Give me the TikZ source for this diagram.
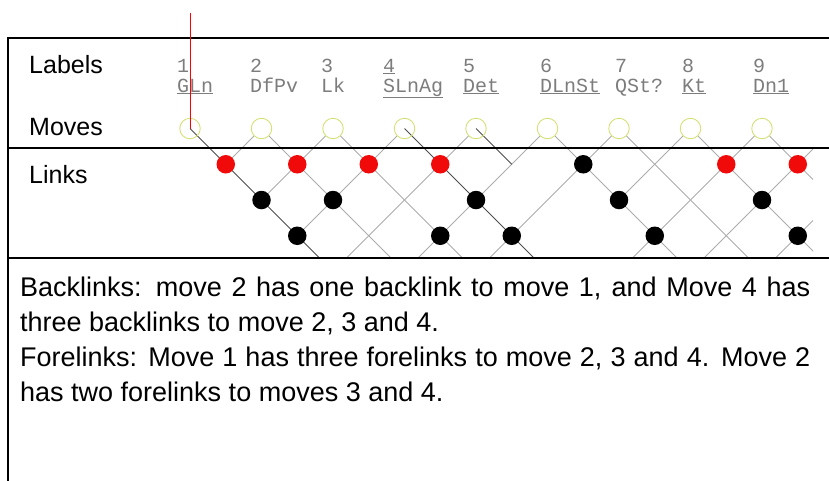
\documentclass[tikz,border=0pt]{standalone}
\usepackage{fontspec}
\setmainfont{Liberation Sans}
\newfontfamily\plotfont{Liberation Mono}
\usetikzlibrary{calc, backgrounds}

\definecolor{ringgreen}{RGB}{214,224,120}
\definecolor{linkred}{RGB}{240,10,10}
\definecolor{gridgray}{RGB}{172,172,172}
\definecolor{labelgray}{RGB}{125,125,125}

\begin{document}
\begin{tikzpicture}[
    x=1pt, y=-1pt,
    move/.style={circle, draw=ringgreen, line width=0.9pt, minimum size=20.5pt, inner sep=0pt},
    link/.style={circle, inner sep=0pt, minimum size=18.5pt},
    grid/.style={draw=gridgray, line width=1pt},
    chain/.style={draw=black!70, line width=0.8pt},
    frame/.style={line width=2pt},
    rowname/.style={anchor=base west, inner sep=0pt, font=\fontsize{25}{30}\selectfont},
    tag/.style={anchor=base west, inner sep=0pt, text=labelgray, font=\plotfont\fontsize{20}{20}\selectfont}
]
  \useasboundingbox (0,0) rectangle (829,480);

  % table frame
  \draw[frame] (829,38) -- (8,38) -- (8,481);
  \draw[frame] (8,148) -- (829,148);
  \draw[frame] (8,258) -- (829,258);

  % row names
  \node[rowname] (rlabels) at (29,73) {Labels};
  \node[rowname] (rmoves) at (29,135) {Moves};
  \node[rowname] (rlinks) at (29,183) {Links};

  % move positions, 10 and 11 lie outside the picture
  \foreach \i in {1,...,11} {
    \coordinate (c\i) at ({190+71.5*(\i-1)}, 128.5);
    \coordinate (r\i) at ($(c\i)+(140,140)$);
    \coordinate (l\i) at ($(c\i)+(-140,140)$);
  }
  \foreach \i in {1,...,9}
    \node[move] (m\i) at (c\i) {};

  % labels of the moves
  \node[tag] (n1) at (177,72) {1};
  \node[tag] (w1) at (177,92) {\underline{GLn}};
  \node[tag] (n2) at (250,72) {2};
  \node[tag] (w2) at (250,92) {DfPv};
  \node[tag] (n3) at (321,72) {3};
  \node[tag] (w3) at (321,92) {Lk};
  \node[tag] (n4) at (383,72) {\underline{4}};
  \node[tag] (w4) at (383,92) {\underline{SLnAg}};
  \node[tag] (n5) at (463,72) {5};
  \node[tag] (w5) at (463,92) {\underline{Det}};
  \node[tag] (n6) at (540,72) {6};
  \node[tag] (w6) at (540,92) {\underline{DLnSt}};
  \node[tag] (n7) at (615,72) {7};
  \node[tag] (w7) at (615,92) {QSt?};
  \node[tag] (n8) at (682,72) {8};
  \node[tag] (w8) at (682,92) {\underline{Kt}};
  \node[tag] (n9) at (753,72) {9};
  \node[tag] (w9) at (753,92) {\underline{Dn1}};

  % cursor on move 1
  \coordinate (cursor) at (190,13);
  \draw[red, line width=0.8pt] (cursor) -- (m1.center);

  % links
  \node[link, fill=linkred] (d12) at (225.75,164.25) {};
  \node[link, fill=linkred] (d23) at (297.25,164.25) {};
  \node[link, fill=linkred] (d34) at (368.75,164.25) {};
  \node[link, fill=linkred] (d45) at (440.25,164.25) {};
  \node[link, fill=black] (d67) at (583.25,164.25) {};
  \node[link, fill=linkred] (d89) at (726.25,164.25) {};
  \node[link, fill=linkred] (d910) at (797.75,164.25) {};
  \node[link, fill=black] (d13) at (261.5,200) {};
  \node[link, fill=black] (d24) at (333,200) {};
  \node[link, fill=black] (d46) at (476,200) {};
  \node[link, fill=black] (d68) at (619,200) {};
  \node[link, fill=black] (d810) at (762,200) {};
  \node[link, fill=black] (d14) at (297.25,235.75) {};
  \node[link, fill=black] (d36) at (440.25,235.75) {};
  \node[link, fill=black] (d47) at (511.75,235.75) {};
  \node[link, fill=black] (d69) at (654.75,235.75) {};
  \node[link, fill=black] (d811) at (797.75,235.75) {};
  \coordinate (p56) at (511.75,164.25);

  % lattice behind the links
  \begin{scope}[on background layer]
    \clip (9,0) rectangle (813,257);
    \draw[grid] (m2) -- (r2);
    \draw[grid] (m3) -- (r3);
    \draw[grid] (m6) -- (r6);
    \draw[grid] (m7) -- (r7);
    \draw[grid] (m8) -- (r8);
    \draw[grid] (m9) -- (r9);
    \draw[grid] (m2) -- (d12.center);
    \draw[grid] (m3) -- (d13.center);
    \draw[grid] (m4) -- (d14.center);
    \draw[grid] (m5) -- (l5);
    \draw[grid] (m6) -- (l6);
    \draw[grid] (m7) -- (l7);
    \draw[grid] (m8) -- (d68.center);
    \draw[grid] (m9) -- (l9);
    \draw[grid] (c10) -- (l10);
    \draw[grid] (c11) -- (l11);
    \draw[chain] (m1.center) -- (r1);
    \draw[chain] (m4.center) -- (r4);
    \draw[chain] (m5.center) -- (p56);
  \end{scope}

  % explanation
  \node[anchor=north west, inner sep=0pt, text width=790pt, align=justify,
        font=\fontsize{27}{35}\selectfont] (note) at (20,277)
    {Backlinks: move 2 has one backlink to move 1, and Move 4 has three backlinks to move 2, 3 and 4.\par
     Forelinks: Move 1 has three forelinks to move 2, 3 and 4. Move 2 has two forelinks to moves 3 and 4.};
\end{tikzpicture}
\end{document}
